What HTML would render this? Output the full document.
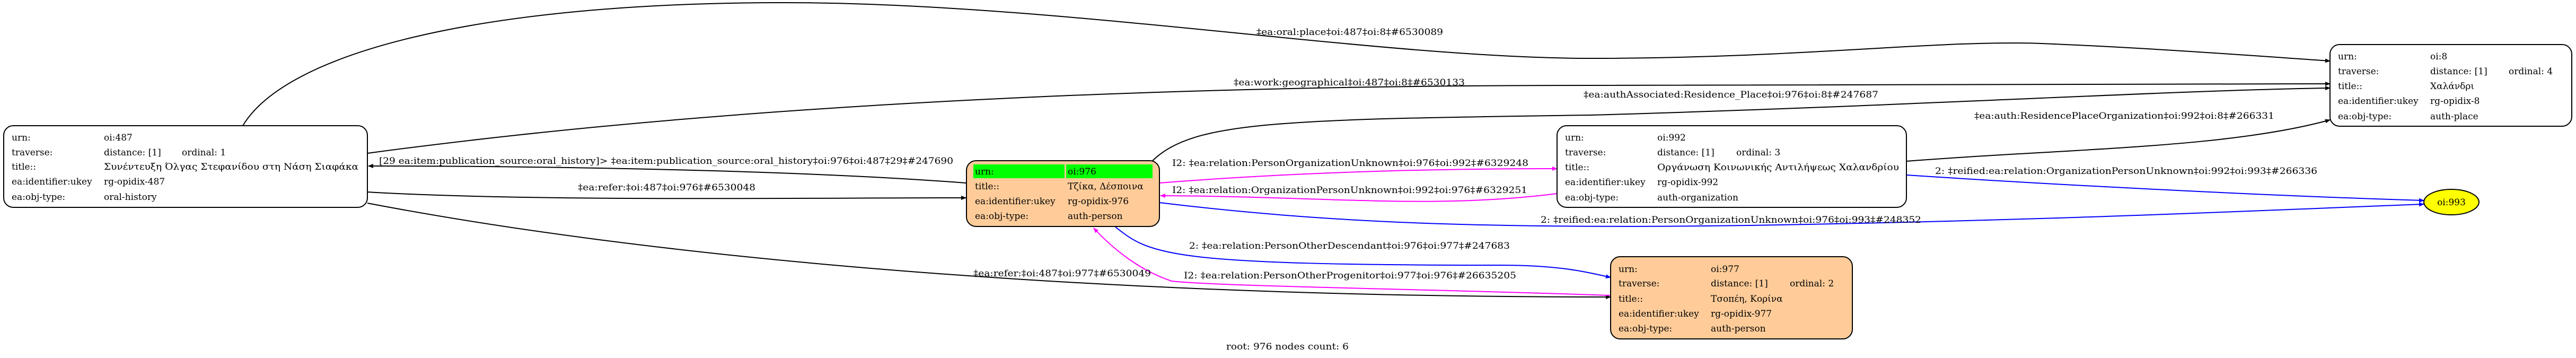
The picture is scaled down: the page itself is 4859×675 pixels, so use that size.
<!DOCTYPE html>
<html><head><meta charset="utf-8"><style>
html,body{margin:0;padding:0;background:#fff;}
svg{display:block;}
text{font-family:"DejaVu Serif","Liberation Serif",serif;font-size:17px;fill:#000;}
</style></head><body>
<svg width="4859" height="675" viewBox="0 0 4859 675" xmlns="http://www.w3.org/2000/svg">
<defs>
<marker id="ak" markerWidth="10" markerHeight="8" refX="9" refY="4" orient="auto" markerUnits="userSpaceOnUse" viewBox="0 0 10 8"><path d="M0,0 L10,4 L0,8 z" fill="#000"/></marker>
<marker id="am" markerWidth="10" markerHeight="8" refX="9" refY="4" orient="auto" markerUnits="userSpaceOnUse" viewBox="0 0 10 8"><path d="M0,0 L10,4 L0,8 z" fill="#f0f"/></marker>
<marker id="ab" markerWidth="10" markerHeight="8" refX="9" refY="4" orient="auto" markerUnits="userSpaceOnUse" viewBox="0 0 10 8"><path d="M0,0 L10,4 L0,8 z" fill="#00f"/></marker>
</defs>
<g fill="none" stroke-width="2">
<path d="M458,237 C540,100 900,5 1478,5 C2000,5 2600,110 3000,110 C3400,110 3650,75 3850,82 C4050,90 4250,105 4395,115" stroke="#000" marker-end="url(#ak)"/>
<path d="M693,289 C1500,180 2400,161 3000,161 C3500,160 4000,158 4395,158" stroke="#000" marker-end="url(#ak)"/>
<path d="M2174,303 C2250,230 2400,225 3000,217 C3600,200 4100,170 4395,166" stroke="#000" marker-end="url(#ak)"/>
<path d="M1822,345 C1500,320 1000,313 695,313" stroke="#000" marker-end="url(#ak)"/>
<path d="M693,362 C1000,380 1500,373 1822,373" stroke="#000" marker-end="url(#ak)"/>
<path d="M693,383 C1200,480 2000,560 3038,560" stroke="#000" marker-end="url(#ak)"/>
<path d="M2187,345 C2500,320 2800,318 2937,318" stroke="#f0f" marker-end="url(#am)"/>
<path d="M2937,365 C2700,395 2500,370 2189,369" stroke="#f0f" marker-end="url(#am)"/>
<path d="M2187,382 C2500,420 2800,432 3300,425 C3900,415 4300,395 4572,385" stroke="#00f" marker-end="url(#ab)"/>
<path d="M3596,330 C3900,350 4300,370 4572,378" stroke="#00f" marker-end="url(#ab)"/>
<path d="M3596,304 C3900,280 4200,280 4395,226" stroke="#000" marker-end="url(#ak)"/>
<path d="M2104,428 C2170,480 2200,500 2830,500 C2950,500 3000,515 3038,523" stroke="#00f" marker-end="url(#ab)"/>
<path d="M3038,557 C2700,545 2300,540 2210,530 C2150,510 2100,470 2063,430" stroke="#f0f" marker-end="url(#am)"/>
</g>
<rect x="7" y="237" width="686" height="154" rx="18" fill="#fff" stroke="#000" stroke-width="2"/>
<g>
<text x="22" y="265">urn:</text><text x="196" y="265">oi:487</text>
<text x="22" y="293">traverse:</text><text x="196" y="293">distance: [1]</text><text x="343" y="293">ordinal: 1</text>
<text x="22" y="320">title::</text><text x="196" y="320" textLength="480" lengthAdjust="spacingAndGlyphs">Συνέντευξη Όλγας Στεφανίδου στη Νάση Σιαφάκα</text>
<text x="22" y="348">ea:identifier:ukey</text><text x="196" y="348">rg-opidix-487</text>
<text x="22" y="377">ea:obj-type:</text><text x="196" y="377">oral-history</text>
</g>
<rect x="1823" y="303" width="364" height="124" rx="18" fill="#ffcc99" stroke="#000" stroke-width="2"/>
<rect x="1836" y="310" width="172" height="26" fill="#00ff00"/>
<rect x="2011" y="310" width="163" height="26" fill="#00ff00"/>
<text x="1839" y="329">urn:</text><text x="2014" y="329">oi:976</text>
<text x="1839" y="357">title::</text><text x="2014" y="357">Τζίκα, Δέσποινα</text>
<text x="1839" y="385">ea:identifier:ukey</text><text x="2014" y="385">rg-opidix-976</text>
<text x="1839" y="413">ea:obj-type:</text><text x="2014" y="413">auth-person</text>

<rect x="2937" y="237" width="659" height="154" rx="18" fill="#fff" stroke="#000" stroke-width="2"/>
<text x="2952" y="265">urn:</text><text x="3126" y="265">oi:992</text>
<text x="2952" y="293">traverse:</text><text x="3126" y="293">distance: [1]</text><text x="3275" y="293">ordinal: 3</text>
<text x="2952" y="321">title::</text><text x="3126" y="321" textLength="456" lengthAdjust="spacingAndGlyphs">Οργάνωση Κοινωνικής Αντιλήψεως Χαλανδρίου</text>
<text x="2952" y="349">ea:identifier:ukey</text><text x="3126" y="349">rg-opidix-992</text>
<text x="2952" y="378">ea:obj-type:</text><text x="3126" y="378">auth-organization</text>

<rect x="4395" y="84" width="456" height="154" rx="18" fill="#fff" stroke="#000" stroke-width="2"/>
<text x="4410" y="112">urn:</text><text x="4584" y="112">oi:8</text>
<text x="4410" y="140">traverse:</text><text x="4584" y="140">distance: [1]</text><text x="4732" y="140">ordinal: 4</text>
<text x="4410" y="168">title::</text><text x="4584" y="168">Χαλάνδρι</text>
<text x="4410" y="196">ea:identifier:ukey</text><text x="4584" y="196">rg-opidix-8</text>
<text x="4410" y="225">ea:obj-type:</text><text x="4584" y="225">auth-place</text>

<rect x="3038" y="484" width="456" height="155" rx="18" fill="#ffcc99" stroke="#000" stroke-width="2"/>
<text x="3053" y="513">urn:</text><text x="3227" y="513">oi:977</text>
<text x="3053" y="540">traverse:</text><text x="3227" y="540">distance: [1]</text><text x="3376" y="540">ordinal: 2</text>
<text x="3053" y="569">title::</text><text x="3227" y="569">Τσοπέη, Κορίνα</text>
<text x="3053" y="597">ea:identifier:ukey</text><text x="3227" y="597">rg-opidix-977</text>
<text x="3053" y="625">ea:obj-type:</text><text x="3227" y="625">auth-person</text>

<ellipse cx="4624" cy="381" rx="52" ry="24" fill="#ffff00" stroke="#000" stroke-width="2"/>
<text x="4624" y="387" text-anchor="middle">oi:993</text>

<text x="2370" y="66" textLength="352" lengthAdjust="spacingAndGlyphs">‡ea:oral:place‡oi:487‡oi:8‡#6530089</text>
<text x="2327" y="161" textLength="436" lengthAdjust="spacingAndGlyphs">‡ea:work:geographical‡oi:487‡oi:8‡#6530133</text>
<text x="2987" y="184" textLength="556" lengthAdjust="spacingAndGlyphs">‡ea:authAssociated:Residence_Place‡oi:976‡oi:8‡#247687</text>
<text x="715" y="309" textLength="1083" lengthAdjust="spacingAndGlyphs">[29 ea:item:publication_source:oral_history]&gt; ‡ea:item:publication_source:oral_history‡oi:976‡oi:487‡29‡#247690</text>
<text x="1090" y="359" textLength="335" lengthAdjust="spacingAndGlyphs">‡ea:refer:‡oi:487‡oi:976‡#6530048</text>
<text x="1836" y="521" textLength="335" lengthAdjust="spacingAndGlyphs">‡ea:refer:‡oi:487‡oi:977‡#6530049</text>
<text x="2211" y="313" textLength="672" lengthAdjust="spacingAndGlyphs">I2: ‡ea:relation:PersonOrganizationUnknown‡oi:976‡oi:992‡#6329248</text>
<text x="2211" y="364" textLength="670" lengthAdjust="spacingAndGlyphs">I2: ‡ea:relation:OrganizationPersonUnknown‡oi:992‡oi:976‡#6329251</text>
<text x="2906" y="420" textLength="718" lengthAdjust="spacingAndGlyphs">2: ‡reified:ea:relation:PersonOrganizationUnknown‡oi:976‡oi:993‡#248352</text>
<text x="3650" y="328" textLength="721" lengthAdjust="spacingAndGlyphs">2: ‡reified:ea:relation:OrganizationPersonUnknown‡oi:992‡oi:993‡#266336</text>
<text x="3724" y="224" textLength="566" lengthAdjust="spacingAndGlyphs">‡ea:auth:ResidencePlaceOrganization‡oi:992‡oi:8‡#266331</text>
<text x="2243" y="469" textLength="605" lengthAdjust="spacingAndGlyphs">2: ‡ea:relation:PersonOtherDescendant‡oi:976‡oi:977‡#247683</text>
<text x="2233" y="525" textLength="627" lengthAdjust="spacingAndGlyphs">I2: ‡ea:relation:PersonOtherProgenitor‡oi:977‡oi:976‡#26635205</text>
<text x="2313" y="659" textLength="231" lengthAdjust="spacingAndGlyphs">root: 976 nodes count: 6</text>
</svg>
</body></html>
